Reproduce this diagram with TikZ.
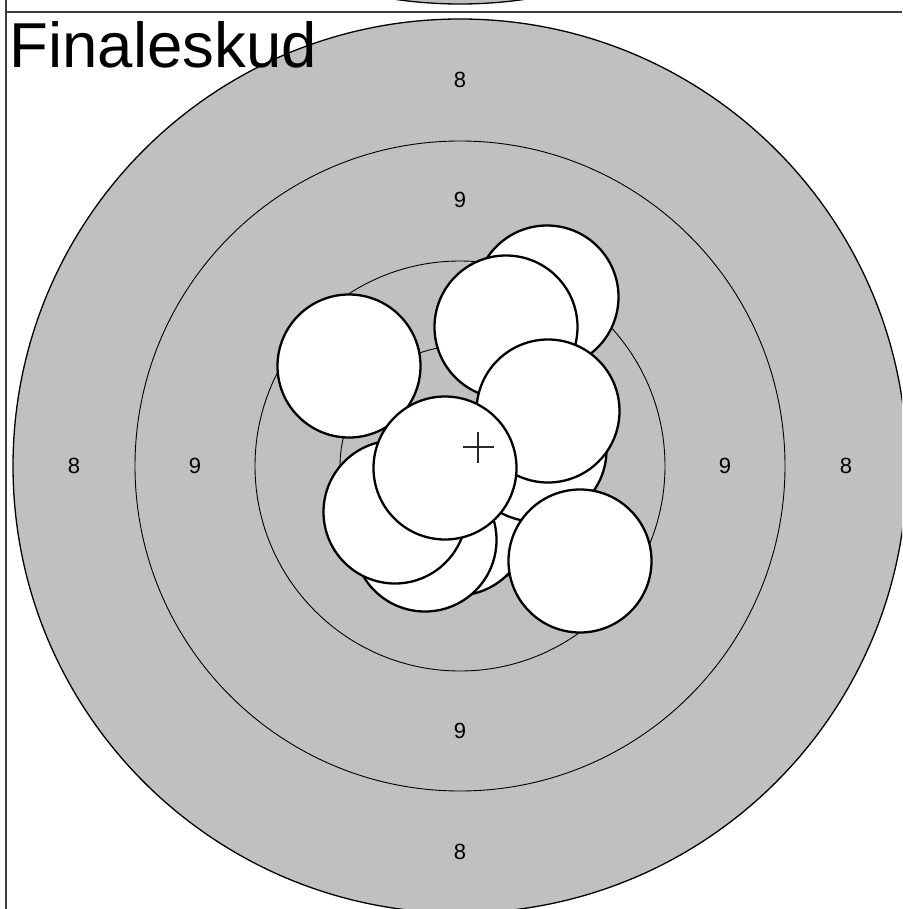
\documentclass[tikz,border=0pt]{standalone}
\usepackage{fontspec}
\setmainfont{Liberation Sans}
\definecolor{tgray}{RGB}{192,192,192}
\definecolor{framegray}{RGB}{60,60,60}
\definecolor{crossgray}{RGB}{40,40,40}
\begin{document}
\begin{tikzpicture}[x=1pt,y=-1pt,
  outerring/.style={draw=black,fill=tgray,line width=1.3pt},
  ring/.style={draw=black,line width=0.9pt},
  shot/.style={draw=black,fill=white,line width=2.3pt},
  framel/.style={draw=framegray,line width=1.6pt},
  lab/.style={font=\fontsize{22}{22}\selectfont,inner sep=0pt,text=black},
  ttl/.style={font=\fontsize{63.5}{63.5}\selectfont,inner sep=0pt,anchor=base west}]
\useasboundingbox (0,0) rectangle (902,909);
\clip (0,0) rectangle (902,909);
\coordinate (prev) at (460,-443);
\coordinate (c) at (460,466);
% previous target (bottom edge)
\path[outerring] (prev) circle (447);
% target
\path[outerring] (c) circle (447);
\path[ring] (c) circle (325);
\path[ring] (c) circle (205);
\path[ring] (c) circle (120);
% ring labels
\node[lab] (l8t) at (460,80) {8};
\node[lab] (l8b) at (460,852) {8};
\node[lab] (l8l) at (74,466) {8};
\node[lab] (l8r) at (846,466) {8};
\node[lab] (l9t) at (460,200) {9};
\node[lab] (l9b) at (460,731) {9};
\node[lab] (l9l) at (195,466) {9};
\node[lab] (l9r) at (725,466) {9};
% shots
\path[shot] (547,297) circle (71.5);
\path[shot] (506,327) circle (71.5);
\path[shot] (349,366) circle (71.5);
\path[shot] (457,524) circle (71.5);
\path[shot] (425,540) circle (71.5);
\path[shot] (395,512) circle (71.5);
\path[shot] (535,450) circle (71.5);
\path[shot] (548,411) circle (71.5);
\path[shot] (445,468) circle (71.5);
\path[shot] (580,561) circle (71.5);
% mean point cross
\coordinate (m) at (478,447);
\draw[crossgray,line width=1.2pt] ([xshift=-15.5pt]m) -- ([xshift=15.5pt]m);
\draw[crossgray,line width=1.2pt] ([yshift=-15.5pt]m) -- ([yshift=15.5pt]m);
% frame
\draw[framel] (6,12) -- (902,12);
\draw[framel,line width=1.3pt] (6,0) -- (6,909);
% title
\node[ttl] (title) at (9.5,68) {Finaleskud};
\end{tikzpicture}
\end{document}
